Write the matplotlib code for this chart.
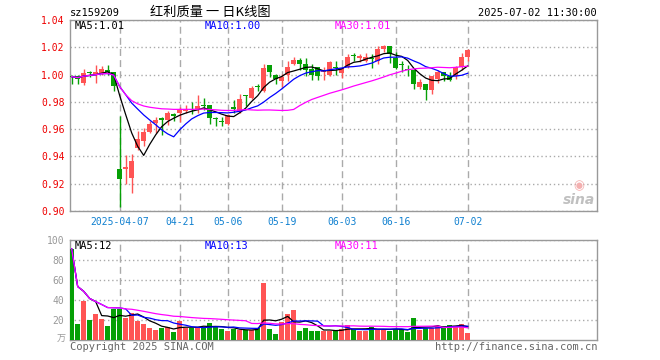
import matplotlib
matplotlib.use("Agg")
import matplotlib.pyplot as plt
import pandas as pd

plt.rcParams['font.family'] = ['DejaVu Sans Mono']

# 交易日 (2025)
dates = ["03-25", "03-26", "03-27", "03-28", "03-31", "04-01", "04-02", "04-03",
         "04-07", "04-08", "04-09", "04-10", "04-11", "04-14", "04-15", "04-16",
         "04-17", "04-18", "04-21", "04-22", "04-23", "04-24", "04-25", "04-28",
         "04-29", "04-30", "05-06", "05-07", "05-08", "05-09", "05-12", "05-13",
         "05-14", "05-15", "05-16", "05-19", "05-20", "05-21", "05-22", "05-23",
         "05-26", "05-27", "05-28", "05-29", "05-30", "06-03", "06-04", "06-05",
         "06-06", "06-09", "06-10", "06-11", "06-12", "06-13", "06-16", "06-17",
         "06-18", "06-19", "06-20", "06-23", "06-24", "06-25", "06-26", "06-27",
         "06-30", "07-01", "07-02"]

opens = [0.9990, 0.9990, 0.9936, 1.0020, 1.0000, 1.0010, 1.0030, 1.0020,
         0.9307, 0.9310, 0.9240, 0.9460, 0.9515, 0.9580, 0.9645, 0.9680,
         0.9670, 0.9710, 0.9716, 0.9730, 0.9750, 0.9750, 0.9775, 0.9780,
         0.9680, 0.9660, 0.9637, 0.9760, 0.9735, 0.9850, 0.9830, 0.9915,
         0.9880, 1.0070, 0.9998, 0.9950, 0.9998, 1.0080, 1.0108, 1.0080,
         1.0040, 1.0052, 1.0020, 1.0000, 1.0048, 1.0012, 1.0054, 1.0135,
         1.0125, 1.0100, 1.0117, 1.0103, 1.0184, 1.0208, 1.0122, 1.0073,
         1.0037, 1.0037, 0.9907, 0.9931, 0.9890, 0.9968, 1.0017, 0.9988,
         0.9988, 1.0054, 1.0132]
highs = [1.0000, 1.0000, 1.0040, 1.0025, 1.0070, 1.0060, 1.0070, 1.0020,
         0.9694, 0.9410, 0.9420, 0.9590, 0.9610, 0.9660, 0.9690, 0.9690,
         0.9735, 0.9718, 0.9765, 0.9780, 0.9797, 0.9850, 0.9826, 0.9780,
         0.9686, 0.9686, 0.9710, 0.9810, 0.9858, 0.9850, 0.9914, 0.9930,
         1.0080, 1.0070, 1.0005, 1.0005, 1.0100, 1.0127, 1.0122, 1.0125,
         1.0076, 1.0052, 1.0052, 1.0100, 1.0098, 1.0046, 1.0150, 1.0160,
         1.0150, 1.0157, 1.0150, 1.0208, 1.0220, 1.0208, 1.0164, 1.0103,
         1.0071, 1.0037, 0.9968, 0.9931, 0.9993, 1.0037, 1.0022, 1.0017,
         1.0060, 1.0160, 1.0189]
lows = [0.9930, 0.9930, 0.9927, 0.9980, 0.9940, 1.0000, 1.0000, 0.9880,
        0.9032, 0.9200, 0.9135, 0.9450, 0.9480, 0.9575, 0.9570, 0.9560,
        0.9630, 0.9660, 0.9650, 0.9720, 0.9710, 0.9716, 0.9740, 0.9640,
        0.9625, 0.9625, 0.9630, 0.9720, 0.9720, 0.9770, 0.9820, 0.9880,
        0.9870, 0.9980, 0.9930, 0.9907, 0.9956, 1.0070, 1.0030, 0.9990,
        0.9960, 0.9960, 0.9960, 0.9993, 1.0000, 0.9975, 1.0050, 1.0100,
        1.0090, 1.0090, 1.0047, 1.0078, 1.0164, 1.0086, 1.0042, 1.0022,
        0.9993, 0.9895, 0.9895, 0.9816, 0.9858, 0.9939, 0.9956, 0.9956,
        0.9968, 1.0037, 1.0103]
closes = [0.9985, 0.9970, 1.0010, 1.0010, 1.0020, 1.0040, 1.0020, 0.9914,
          0.9238, 0.9320, 0.9370, 0.9530, 0.9580, 0.9640, 0.9670, 0.9670,
          0.9720, 0.9700, 0.9748, 0.9750, 0.9740, 0.9770, 0.9770, 0.9680,
          0.9675, 0.9655, 0.9700, 0.9750, 0.9820, 0.9845, 0.9900, 0.9910,
          1.0050, 1.0017, 0.9968, 0.9985, 1.0054, 1.0108, 1.0080, 1.0036,
          1.0000, 0.9990, 1.0030, 1.0095, 1.0045, 1.0046, 1.0130, 1.0133,
          1.0127, 1.0130, 1.0112, 1.0184, 1.0213, 1.0152, 1.0049, 1.0069,
          1.0035, 0.9931, 0.9949, 0.9887, 0.9988, 1.0022, 0.9993, 0.9963,
          1.0054, 1.0127, 1.0181]
# 成交量 (万)
volumes = [91, 16, 39, 20, 26, 21, 14, 31, 31, 22, 27, 19, 16, 12, 10, 12,
           13, 8, 19, 12, 12, 13, 13, 17, 13, 11, 9, 11, 10, 10, 10, 12,
           57, 11, 6, 18, 26, 30, 9.5, 12, 9.5, 9.5, 9.5, 9.5, 9, 11,
           15, 11, 9.5, 9.5, 13, 11, 10.5, 9, 11, 11.5, 8.3, 22.3, 10, 12.3,
           12.5, 14.5, 14, 15, 14, 16, 7.5]

tick_dates = ["04-07", "04-21", "05-06", "05-19", "06-03", "06-16", "07-02"]
tick_labels = ["2025-04-07", "04-21", "05-06", "05-19", "06-03", "06-16", "07-02"]
price_ticks = [0.90, 0.92, 0.94, 0.96, 0.98, 1.00, 1.02, 1.04]
vol_ticks = [20, 40, 60, 80, 100]

RED = '#ff5454'
GREEN = '#06a006'
GRID = '#aaaaaa'
FRAME = '#999999'

df = pd.DataFrame({'o': opens, 'h': highs, 'l': lows, 'c': closes, 'v': volumes})
x = list(range(len(df)))
up = df['c'] >= df['o']
colors = [RED if u else GREEN for u in up]
ticks_x = [dates.index(d) for d in tick_dates]

fig = plt.figure(figsize=(6.6, 3.6), dpi=100)
ax = fig.add_axes([70 / 660, 1 - 211 / 360, 527 / 660, 191 / 360])
axv = fig.add_axes([70 / 660, 1 - 340 / 360, 527 / 660, 100 / 360])

xmin, xmax = -0.28, 87.55

# K线
ax.vlines(x, df['l'], df['h'], colors=colors, lw=1, zorder=3)
body = (df['c'] - df['o']).abs().clip(lower=0.0008)
bottom = df[['o', 'c']].min(axis=1)
ax.bar(x, body, bottom=bottom, width=0.8, color=colors, lw=0, zorder=4)

ma_cols = [('black', 5), ('#0000ff', 10), ('#ff00ff', 30)]
for col, n in ma_cols:
    ax.plot(x, df['c'].rolling(n, min_periods=1).mean(), color=col, lw=0.9, zorder=5)

# 成交量
axv.bar(x, df['v'], width=0.8, color=colors, lw=0, zorder=3)
for col, n in ma_cols:
    axv.plot(x, df['v'].rolling(n, min_periods=1).mean(), color=col, lw=0.9, zorder=5)

for a in (ax, axv):
    a.set_xlim(xmin, xmax)
    a.set_xticks(ticks_x)
    a.grid(axis='x', color=GRID, lw=1, linestyle=(0, (5, 3)))
    a.grid(axis='y', color=GRID, lw=1, linestyle=(0, (1, 2)))
    a.set_axisbelow(True)
    a.tick_params(length=0, labelsize=7)
    for s in a.spines.values():
        s.set_color(FRAME)
        s.set_linewidth(1)

ax.set_ylim(0.90, 1.04)
ax.set_yticks(price_ticks)
ax.set_yticklabels([f"{v:.2f}" for v in price_ticks], color='#ee0000')
ax.set_xticklabels(tick_labels, color='#1080d0')
ax.tick_params(axis='x', pad=4)
ax.tick_params(axis='y', pad=4)

axv.set_ylim(0, 100)
axv.set_yticks(vol_ticks)
axv.set_yticklabels([str(v) for v in vol_ticks], color='#999999')
axv.set_xticklabels([])
axv.tick_params(axis='y', pad=4)

# 文字
fs = 7
fig.text(70 / 660, 1 - 13 / 360, "sz159209", fontsize=fs + 0.5, va='center', ha='left')
fig.text(150 / 660, 1 - 12 / 360, "红利质量 一 日K线图", fontsize=9.5, va='center', ha='left',
         family=['Noto Sans CJK SC', 'DejaVu Sans'])
fig.text(597 / 660, 1 - 13 / 360, "2025-07-02 11:30:00", fontsize=fs + 0.5, va='center', ha='right')

labels_main = [("MA5:1.01", 'black', 75), ("MA10:1.00", '#0000ff', 205), ("MA30:1.01", '#ff00ff', 335)]
labels_vol = [("MA5:12", 'black', 75), ("MA10:13", '#0000ff', 205), ("MA30:11", '#ff00ff', 335)]
for txt, col, px in labels_main:
    fig.text(px / 660, 1 - 26 / 360, txt, fontsize=fs + 0.5, color=col, va='center', ha='left')
for txt, col, px in labels_vol:
    fig.text(px / 660, 1 - 246 / 360, txt, fontsize=fs + 0.5, color=col, va='center', ha='left')

fig.text(66 / 660, 1 - 339 / 360, "万", fontsize=6.5, color='#999999', va='center', ha='right',
         family=['Noto Sans CJK SC', 'DejaVu Sans'])
fig.text(70 / 660, 1 - 347 / 360, "Copyright 2025 SINA.COM", fontsize=fs + 0.5, color='#666666',
         va='center', ha='left')
fig.text(597 / 660, 1 - 347 / 360, "http://finance.sina.com.cn", fontsize=fs + 0.5, color='#666666',
         va='center', ha='right')

# 水印
ax.text(0.965, 0.13, "◉", transform=ax.transAxes, fontsize=9, color='#f4b0b0',
        ha='center', va='center', family='DejaVu Sans')
ax.text(0.997, 0.02, "sina", transform=ax.transAxes, fontsize=10, color='#c0c0c0',
        style='italic', weight='bold', ha='right', va='bottom', family='DejaVu Sans')

fig.savefig("out.png", dpi=100)
